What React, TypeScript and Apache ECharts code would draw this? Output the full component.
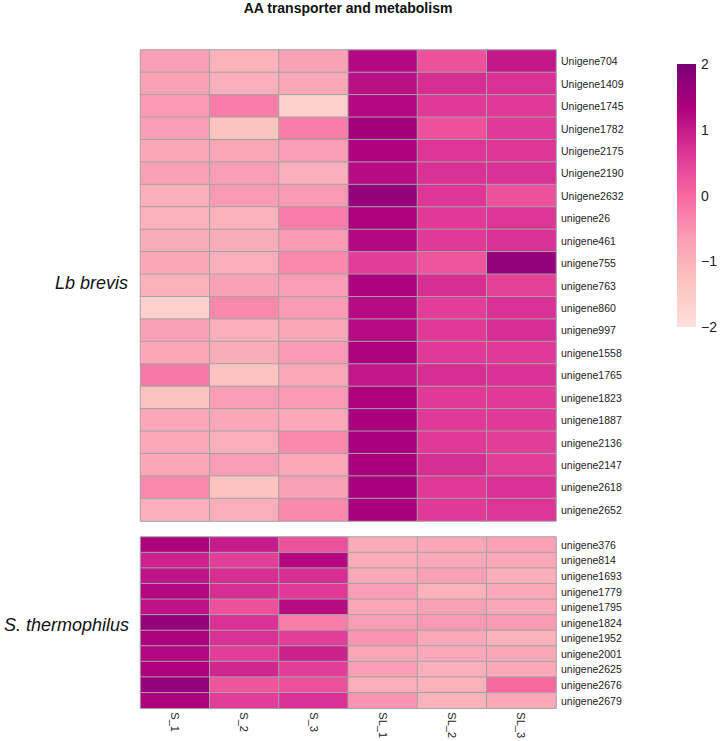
import React, { useEffect, useRef } from "react";
import * as echarts from "echarts";

const samples = ["S_1", "S_2", "S_3", "SL_1", "SL_2", "SL_3"];

const brevisGenes = [
  "Unigene704", "Unigene1409", "Unigene1745", "Unigene1782", "Unigene2175", "Unigene2190",
  "Unigene2632", "unigene26", "unigene461", "unigene755", "unigene763", "unigene860",
  "unigene997", "unigene1558", "unigene1765", "unigene1823", "unigene1887", "unigene2136",
  "unigene2147", "unigene2618", "unigene2652",
];

const brevisValues = [
  [-0.65, -1.0, -0.7, 1.25, 0.3, 1.05],
  [-0.7, -0.95, -0.8, 1.15, 0.75, 0.7],
  [-0.6, -0.25, -1.6, 1.25, 0.6, 0.6],
  [-0.65, -1.3, -0.25, 1.45, 0.3, 0.6],
  [-0.8, -0.8, -0.65, 1.35, 0.67, 0.65],
  [-0.7, -0.65, -0.95, 1.2, 0.7, 0.7],
  [-0.95, -0.6, -0.6, 1.65, 0.65, 0.3],
  [-1.0, -1.0, -0.25, 1.35, 0.6, 0.67],
  [-0.9, -0.9, -0.6, 1.25, 0.6, 0.7],
  [-0.8, -0.95, -0.4, 0.55, 0.25, 1.65],
  [-1.0, -0.7, -0.65, 1.35, 0.75, 0.5],
  [-1.6, -0.4, -0.6, 1.2, 0.55, 0.7],
  [-0.7, -0.95, -0.8, 1.2, 0.6, 0.75],
  [-0.8, -0.9, -0.6, 1.35, 0.6, 0.6],
  [-0.2, -1.3, -0.85, 1.05, 0.75, 0.7],
  [-1.3, -0.65, -0.6, 1.35, 0.6, 0.6],
  [-0.8, -0.8, -0.85, 1.4, 0.6, 0.6],
  [-0.85, -0.95, -0.4, 1.4, 0.6, 0.55],
  [-0.8, -0.65, -0.85, 1.4, 0.75, 0.55],
  [-0.4, -1.3, -0.7, 1.4, 0.6, 0.7],
  [-0.95, -0.95, -0.4, 1.4, 0.6, 0.67],
];

const thermoGenes = [
  "unigene376", "unigene814", "unigene1693", "unigene1779", "unigene1795", "unigene1824",
  "unigene1952", "unigene2001", "unigene2625", "unigene2676", "unigene2679",
];

const thermoValues = [
  [1.35, 1.0, 0.3, -0.9, -0.8, -0.7],
  [0.9, 0.55, 1.25, -0.9, -0.8, -0.8],
  [1.1, 0.75, 0.75, -0.85, -0.7, -0.95],
  [1.25, 0.75, 0.6, -0.65, -1.0, -0.85],
  [1.1, 0.3, 1.2, -0.8, -0.7, -0.8],
  [1.65, 0.7, -0.25, -0.65, -0.6, -0.6],
  [1.35, 0.7, 0.55, -0.55, -0.85, -1.0],
  [1.25, 0.55, 0.9, -0.8, -0.85, -0.8],
  [1.35, 0.85, 0.55, -0.65, -0.95, -0.85],
  [1.65, 0.25, 0.3, -0.95, -1.0, 0.0],
  [1.35, 0.55, 0.7, -0.55, -1.0, -0.85],
];

const scaleTicks = [-2, -1, 0, 1, 2];
const palette = ["#FDE0DD", "#FCC5C0", "#FA9FB5", "#F768A1", "#DD3497", "#AE017E", "#7A0177"];

const toCells = (rows: number[][]) => {
  const out: number[][] = [];
  rows.forEach((r, yi) => r.forEach((v, xi) => out.push([xi, yi, v])));
  return out;
};

export default function App() {
  const ref = useRef<HTMLDivElement>(null);
  useEffect(() => {
    if (!ref.current) return;
    const chart = echarts.init(ref.current, undefined, { renderer: "svg" });
    const font = "'Liberation Sans', Arial, sans-serif";
    const cellStyle = { borderColor: "#A3A3A3", borderWidth: 1 };
    const gradStops = palette
      .slice()
      .reverse()
      .map((c, i) => ({ offset: i / (palette.length - 1), color: c }));
    chart.setOption({
      animation: false,
      backgroundColor: "#ffffff",
      textStyle: { fontFamily: font },
      title: {
        text: "AA transporter and metabolism",
        left: 348,
        top: 1,
        padding: 0,
        textAlign: "center",
        textStyle: { fontSize: 14, fontWeight: "bold", color: "#111", fontFamily: font },
      },
      grid: [
        { left: 140.5, top: 50, width: 415.5, height: 471 },
        { left: 140.5, top: 537, width: 415.5, height: 180 },
        { left: 677, top: 64, width: 19, height: 263 },
      ],
      xAxis: [
        {
          type: "category", gridIndex: 0, data: samples,
          axisLine: { show: false }, axisTick: { show: false }, axisLabel: { show: false },
          splitLine: { show: false },
        },
        {
          type: "category", gridIndex: 1, data: samples,
          axisLine: { show: false }, axisTick: { show: false },
          axisLabel: { rotate: -90, margin: 4, fontSize: 11, color: "#222", fontFamily: font },
          splitLine: { show: false },
        },
        { type: "value", gridIndex: 2, show: false },
      ],
      yAxis: [
        {
          type: "category", gridIndex: 0, data: brevisGenes, inverse: true, position: "right",
          axisLine: { show: false }, axisTick: { show: false },
          axisLabel: { margin: 5, fontSize: 10.5, color: "#222", fontFamily: font },
        },
        {
          type: "category", gridIndex: 1, data: thermoGenes, inverse: true, position: "right",
          axisLine: { show: false }, axisTick: { show: false },
          axisLabel: { margin: 5, fontSize: 10.5, color: "#222", fontFamily: font },
        },
        {
          type: "value", gridIndex: 2, min: scaleTicks[0], max: scaleTicks[scaleTicks.length - 1],
          interval: 1, position: "right",
          axisLine: { show: false }, axisTick: { show: false }, splitLine: { show: false },
          axisLabel: {
            margin: 8, fontSize: 14, color: "#222", fontFamily: font,
            formatter: (v: number) => (v < 0 ? "\u2212" + Math.abs(v) : String(v)),
          },
        },
      ],
      visualMap: {
        show: false,
        type: "continuous",
        min: -2,
        max: 2,
        dimension: 2,
        seriesIndex: [0, 1],
        inRange: { color: palette },
      },
      graphic: [
        {
          type: "rect",
          shape: { x: 677, y: 64, width: 19, height: 263 },
          style: { fill: new echarts.graphic.LinearGradient(0, 0, 0, 1, gradStops) },
          z: 0,
        },
        {
          type: "text",
          x: 128, y: 283,
          style: {
            text: "Lb brevis", fontSize: 18, fontStyle: "italic", fill: "#111",
            textAlign: "right", textVerticalAlign: "middle", fontFamily: font,
          },
        },
        {
          type: "text",
          x: 129, y: 625,
          style: {
            text: "S. thermophilus", fontSize: 18, fontStyle: "italic", fill: "#111",
            textAlign: "right", textVerticalAlign: "middle", fontFamily: font,
          },
        },
      ],
      series: [
        {
          type: "heatmap", xAxisIndex: 0, yAxisIndex: 0, data: toCells(brevisValues),
          itemStyle: cellStyle, emphasis: { disabled: true },
        },
        {
          type: "heatmap", xAxisIndex: 1, yAxisIndex: 1, data: toCells(thermoValues),
          itemStyle: cellStyle, emphasis: { disabled: true },
        },
      ],
    });
    return () => chart.dispose();
  }, []);
  return (
    <div
      ref={ref}
      style={{ position: "fixed", left: 0, top: 0, width: 720, height: 741 }}
    />
  );
}
